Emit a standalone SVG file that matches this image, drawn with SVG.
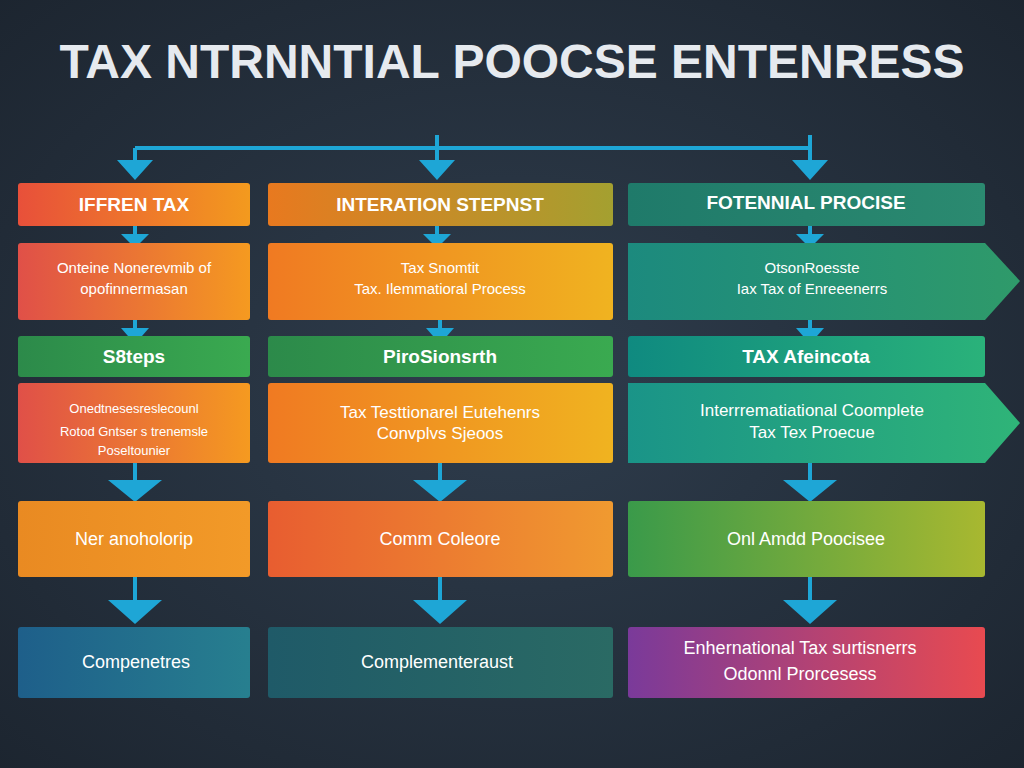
<svg xmlns="http://www.w3.org/2000/svg" width="1024" height="768" viewBox="0 0 1024 768">
<defs>
<radialGradient id="bg" cx="0.5" cy="0.5" r="0.8"><stop offset="0" stop-color="#2f3d4d"/><stop offset="1" stop-color="#1a222c"/></radialGradient>
<linearGradient id="g1" x1="0" x2="1"><stop offset="0" stop-color="#e8503a"/><stop offset="1" stop-color="#f39a1e"/></linearGradient>
<linearGradient id="g2" x1="0" x2="1"><stop offset="0" stop-color="#e8791f"/><stop offset="1" stop-color="#a4a030"/></linearGradient>
<linearGradient id="g3" x1="0" x2="1"><stop offset="0" stop-color="#1f7a6a"/><stop offset="1" stop-color="#2b8a70"/></linearGradient>
<linearGradient id="g4" x1="0" x2="1"><stop offset="0" stop-color="#f07a22"/><stop offset="1" stop-color="#f0b320"/></linearGradient>
<linearGradient id="g5" x1="0" x2="1"><stop offset="0" stop-color="#1c8a7e"/><stop offset="1" stop-color="#2f9a6a"/></linearGradient>
<linearGradient id="g6" x1="0" x2="1"><stop offset="0" stop-color="#2c8a4a"/><stop offset="1" stop-color="#3aaa50"/></linearGradient>
<linearGradient id="g7" x1="0" x2="1"><stop offset="0" stop-color="#0f8a80"/><stop offset="1" stop-color="#2ab27a"/></linearGradient>
<linearGradient id="g8" x1="0" x2="1"><stop offset="0" stop-color="#e05048"/><stop offset="1" stop-color="#f59a20"/></linearGradient>
<linearGradient id="g9" x1="0" x2="1"><stop offset="0" stop-color="#1a9488"/><stop offset="1" stop-color="#2fb478"/></linearGradient>
<linearGradient id="g10" x1="0" x2="1"><stop offset="0" stop-color="#e98a22"/><stop offset="1" stop-color="#f29a28"/></linearGradient>
<linearGradient id="g11" x1="0" x2="1"><stop offset="0" stop-color="#e85d30"/><stop offset="1" stop-color="#f09a30"/></linearGradient>
<linearGradient id="g12" x1="0" x2="1"><stop offset="0" stop-color="#3a9a4a"/><stop offset="1" stop-color="#a8b830"/></linearGradient>
<linearGradient id="g13" x1="0" x2="1"><stop offset="0" stop-color="#1e5f8a"/><stop offset="1" stop-color="#277f8f"/></linearGradient>
<linearGradient id="g14" x1="0" x2="1"><stop offset="0" stop-color="#1f5a68"/><stop offset="1" stop-color="#2a6a64"/></linearGradient>
<linearGradient id="g15" x1="0" x2="1"><stop offset="0" stop-color="#7a3a9a"/><stop offset="1" stop-color="#e84a50"/></linearGradient>
</defs>
<style>
text{font-family:"Liberation Sans",Arial,sans-serif;fill:#fff;text-anchor:middle}
.h{font-size:19px;font-weight:bold}
.b{font-size:15px}
.ln{stroke:#1ea6d6;stroke-width:4;fill:none}
.ah{fill:#1ea6d6}
</style>
<rect width="1024" height="768" fill="url(#bg)"/>
<text x="512" y="78" style="font-size:48px;font-weight:bold;fill:#e6eaef">TAX  NTRNNTIAL POOCSE ENTENRESS</text>
<g id="connectors">
<path class="ln" d="M135 148H810M135 148V165M437 135V165M810 135V165"/>
<path class="ah" d="M117 160H153L135 180ZM419 160H455L437 180ZM792 160H828L810 180Z"/>
<path class="ln" d="M135 226V236M437 226V236M810 226V236"/>
<path class="ah" d="M121 234H149L135 248ZM423 234H451L437 248ZM796 234H824L810 248Z"/>
<path class="ln" d="M135 320V330M440 320V330M810 320V330"/>
<path class="ah" d="M121 328H149L135 344ZM426 328H454L440 344ZM796 328H824L810 344Z"/>
<path class="ln" d="M135 463V482M440 463V482M810 463V482"/>
<path class="ah" d="M108 480H162L135 502ZM413 480H467L440 502ZM783 480H837L810 502Z"/>
<path class="ln" d="M135 577V602M440 577V602M810 577V602"/>
<path class="ah" d="M108 600H162L135 624ZM413 600H467L440 624ZM783 600H837L810 624Z"/>
</g>
<g id="n1"><rect x="18" y="183" width="232" height="43" rx="3" fill="url(#g1)"/><text class="h" x="134" y="211">IFFREN TAX</text></g>
<g id="n2"><rect x="268" y="183" width="345" height="43" rx="3" fill="url(#g2)"/><text class="h" x="440" y="211">INTERATION STEPNST</text></g>
<g id="n3"><rect x="628" y="183" width="357" height="43" rx="3" fill="url(#g3)"/><text class="h" x="806" y="209">FOTENNIAL PROCISE</text></g>
<g id="n4"><rect x="18" y="243" width="232" height="77" rx="3" fill="url(#g8)"/><text class="b" x="134" y="273">Onteine Nonerevmib of</text><text class="b" x="134" y="294">opofinnermasan</text></g>
<g id="n5"><rect x="268" y="243" width="345" height="77" rx="3" fill="url(#g4)"/><text class="b" x="440" y="273">Tax Snomtit</text><text class="b" x="440" y="294">Tax. Ilemmatioral Process</text></g>
<g id="n6"><path d="M628 243H985L1020 281L985 320H628Z" fill="url(#g5)"/><text class="b" x="812" y="273">OtsonRoesste</text><text class="b" x="812" y="294">Iax Tax of Enreeenerrs</text></g>
<g id="n7"><rect x="18" y="336" width="232" height="41" rx="3" fill="url(#g6)"/><text class="h" x="134" y="363">S8teps</text></g>
<g id="n8"><rect x="268" y="336" width="345" height="41" rx="3" fill="url(#g6)"/><text class="h" x="440" y="363">PiroSionsrth</text></g>
<g id="n9"><rect x="628" y="336" width="357" height="41" rx="3" fill="url(#g7)"/><text class="h" x="806" y="363">TAX  Afeincota</text></g>
<g id="n10"><rect x="18" y="383" width="232" height="80" rx="3" fill="url(#g8)"/><text x="134" y="413" style="font-size:13px">Onedtnesesreslecounl</text><text x="134" y="436" style="font-size:13px">Rotod Gntser s trenemsle</text><text x="134" y="455" style="font-size:13px">Poseltounier</text></g>
<g id="n11"><rect x="268" y="383" width="345" height="80" rx="3" fill="url(#g4)"/><text x="440" y="418" style="font-size:17px">Tax Testtionarel Eutehenrs</text><text x="440" y="439" style="font-size:17px">Convplvs Sjeoos</text></g>
<g id="n12"><path d="M628 383H985L1020 423L985 463H628Z" fill="url(#g9)"/><text x="812" y="416" style="font-size:17px">Interrrematiational Coomplete</text><text x="812" y="438" style="font-size:17px">Tax Tex Proecue</text></g>
<g id="n13"><rect x="18" y="501" width="232" height="76" rx="3" fill="url(#g10)"/><text class="h" x="134" y="545" style="font-weight:normal;font-size:18px">Ner anoholorip</text></g>
<g id="n14"><rect x="268" y="501" width="345" height="76" rx="3" fill="url(#g11)"/><text x="440" y="545" style="font-size:18px">Comm Coleore</text></g>
<g id="n15"><rect x="628" y="501" width="357" height="76" rx="3" fill="url(#g12)"/><text x="806" y="545" style="font-size:18px">Onl Amdd Poocisee</text></g>
<g id="n16"><rect x="18" y="627" width="232" height="71" rx="3" fill="url(#g13)"/><text x="136" y="668" style="font-size:18px">Compenetres</text></g>
<g id="n17"><rect x="268" y="627" width="345" height="71" rx="3" fill="url(#g14)"/><text x="437" y="668" style="font-size:18px">Complementeraust</text></g>
<g id="n18"><rect x="628" y="627" width="357" height="71" rx="3" fill="url(#g15)"/><text x="800" y="654" style="font-size:18px">Enhernational Tax surtisnerrs</text><text x="800" y="680" style="font-size:18px">Odonnl Prorcesess</text></g>
</svg>
